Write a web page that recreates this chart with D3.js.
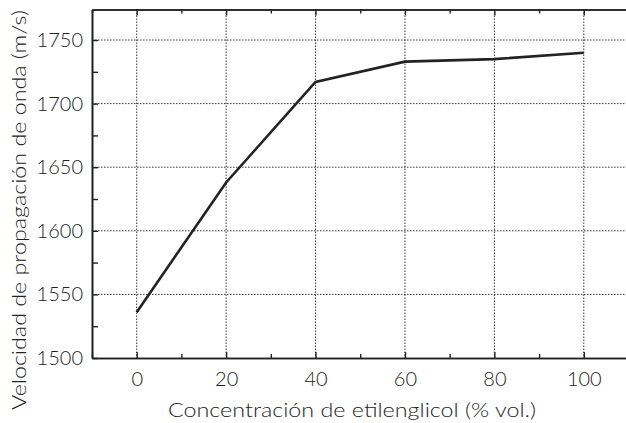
<!DOCTYPE html>
<html><head><meta charset="utf-8">
<script src="https://cdn.jsdelivr.net/npm/d3@7"></script>
<style>body{margin:0;background:#fff}svg{display:block}text{font-family:"Lato","DejaVu Sans",sans-serif;fill:#222}</style>
</head><body>
<script>
const concentration = [0, 20, 40, 60, 80, 100];
const velocity = [1536, 1638, 1717, 1733, 1735, 1740];
const xTicks = [0, 20, 40, 60, 80, 100];
const xMinor = [-10, 10, 30, 50, 70, 90, 110];
const yTicks = [1500, 1550, 1600, 1650, 1700, 1750];
const yMinor = [1525, 1575, 1625, 1675, 1725];
const xLabel = "Concentración de etilenglicol (% vol.)";
const yLabel = "Velocidad de propagación de onda (m/s)";

const W = 626, H = 423;
const L = 92, T = 9.5, B = 358, R = 628.5;
const svg = d3.select("body").append("svg").attr("width", W).attr("height", H);
const x = d3.scaleLinear().domain([-10, 110]).range([L, R]);
const y = d3.scaleLinear().domain([1500, 1774]).range([B, T]);

const g = svg.append("g");
g.selectAll(".vg").data(xTicks).join("line")
  .attr("x1", d => x(d)).attr("x2", d => x(d)).attr("y1", T).attr("y2", B)
  .attr("stroke", "#333").attr("stroke-width", 1).attr("stroke-dasharray", "1.5,1.5");
g.selectAll(".hg").data(yTicks.slice(1)).join("line")
  .attr("x1", L).attr("x2", W).attr("y1", d => y(d)).attr("y2", d => y(d))
  .attr("stroke", "#333").attr("stroke-width", 1).attr("stroke-dasharray", "1.5,1.5");

const fmt = d3.format("d");
svg.append("g").attr("transform", `translate(0,${B})`)
  .call(d3.axisBottom(x).tickValues(xTicks).tickSizeInner(-6).tickSizeOuter(0).tickPadding(14).tickFormat(fmt));
svg.append("g").attr("transform", `translate(0,${B})`)
  .call(d3.axisBottom(x).tickValues(xMinor).tickSizeInner(-4).tickSizeOuter(0).tickFormat(""));
svg.append("g").attr("transform", `translate(0,${T})`)
  .call(d3.axisTop(x).tickValues(xTicks).tickSizeInner(-6).tickSizeOuter(0).tickFormat(""));
svg.append("g").attr("transform", `translate(0,${T})`)
  .call(d3.axisTop(x).tickValues(xMinor).tickSizeInner(-4).tickSizeOuter(0).tickFormat(""));
svg.append("g").attr("transform", `translate(${L},0)`)
  .call(d3.axisLeft(y).tickValues(yTicks).tickSizeInner(-6).tickSizeOuter(0).tickPadding(9).tickFormat(fmt));
svg.append("g").attr("transform", `translate(${L},0)`)
  .call(d3.axisLeft(y).tickValues(yMinor).tickSizeInner(-6).tickSizeOuter(0).tickFormat(""));
svg.selectAll(".domain").attr("stroke", "#222").attr("stroke-width", 1.6);
svg.selectAll(".tick line").attr("stroke", "#222").attr("stroke-width", 1.4);
svg.selectAll(".tick text").style("font-size", "20px").style("font-weight", "300").attr("fill", "#222")
  .style("font-family", '"Lato","DejaVu Sans",sans-serif');

svg.append("path").datum(concentration.map((c, i) => [c, velocity[i]]))
  .attr("d", d3.line().x(d => x(d[0])).y(d => y(d[1])))
  .attr("fill", "none").attr("stroke", "#222").attr("stroke-width", 2.6).attr("stroke-linejoin", "miter");

svg.append("text").attr("x", 352).attr("y", 417).attr("text-anchor", "middle")
  .style("font-size", "20px").style("font-weight", "300")
  .attr("textLength", 368).attr("lengthAdjust", "spacingAndGlyphs").text(xLabel);
svg.append("text").attr("transform", "translate(26,210) rotate(-90)").attr("text-anchor", "middle")
  .style("font-size", "20px").style("font-weight", "300")
  .attr("textLength", 400).attr("lengthAdjust", "spacingAndGlyphs").text(yLabel);
</script>
</body></html>
